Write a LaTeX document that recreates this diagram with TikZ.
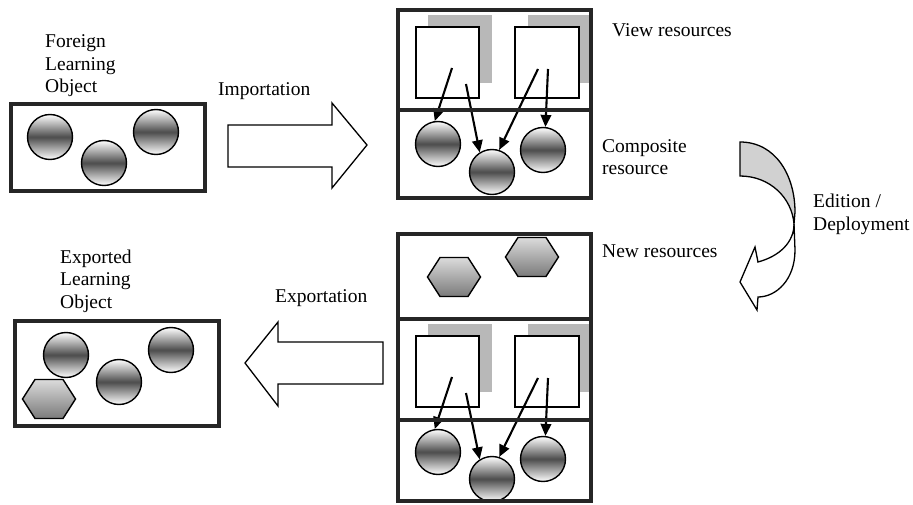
\documentclass[tikz,border=0pt]{standalone}
\usepackage{fontspec}
\setmainfont{Liberation Serif}
\usetikzlibrary{arrows.meta}
\begin{document}
\begin{tikzpicture}[x=1pt,y=-1pt,
  lbl/.style={font=\fontsize{19.5}{22.5}\selectfont, inner sep=0pt, anchor=base west},
  frame/.style={draw=black!85, line width=3.6pt},
  divider/.style={draw=black!85, line width=3.6pt},
  ball/.style={circle, draw=black, line width=1.4pt, minimum size=45pt, inner sep=0pt,
    top color=white, bottom color=white, middle color=black!70},
  viewbox/.style={draw=black, line width=1.3pt, fill=white},
  shadowbox/.style={fill=black!28},
  link/.style={line width=2.1pt, -{Triangle[length=12pt,width=10.5pt]}},
  bigarrow/.style={draw=black, line width=1.3pt, fill=white, line join=miter},
  hexa/.pic={\path[draw=black, line width=1.4pt, top color=black!14, middle color=white, bottom color=black!52]
     (-26.5,0) -- (-14,-19.5) -- (14,-19.5) -- (26.5,0) -- (14,19.5) -- (-14,19.5) -- cycle;}
]
\useasboundingbox (0,0) rectangle (913,505);

% ---------------- Foreign learning object
\node[lbl] (tforeign1) at (45,48) {Foreign};
\node[lbl] (tforeign2) at (45,70.5) {Learning};
\node[lbl] (tforeign3) at (45,93) {Object};
\draw[frame] (11,104) rectangle (205,191);
\node[ball] (f1) at (50,137) {};
\node[ball] (f2) at (104,163) {};
\node[ball] (f3) at (156,132) {};

% Importation arrow
\draw[bigarrow] (228,125) -- (332,125) -- (332,103) -- (367,145) -- (332,188) -- (332,167) -- (228,167) -- cycle;
\node[lbl] (timport) at (218,96) {Importation};

% ---------------- Top composite box
\fill[shadowbox] (428,15) rectangle (492,83);
\fill[shadowbox] (528,15) rectangle (590,83);
\draw[viewbox] (416,27) rectangle (479,98);
\draw[viewbox] (515,27) rectangle (579,98);
\node[ball] (t1) at (438,144) {};
\node[ball] (t2) at (492,172) {};
\node[ball] (t3) at (543,150) {};
\coordinate (ts1) at (452,68);
\coordinate (ts2) at (466,84);
\coordinate (ts3) at (538,69);
\coordinate (ts4) at (548,69);
\draw[link] (ts1) -- (t1.98);
\draw[link] (ts2) -- (t2.122);
\draw[link] (ts3) -- (t2.72);
\draw[link] (ts4) -- (t3.84);
\draw[frame] (398,10) rectangle (591,198);
\draw[divider] (398,110) -- (591,110);
\node[lbl] (tview) at (612,37) {View resources};
\node[lbl] (tcomp1) at (602,153) {Composite};
\node[lbl] (tcomp2) at (602,175) {resource};

% ---------------- Curved Edition / Deployment arrow
\draw[line width=1.3pt, fill=white, line join=miter]
  (794,224) -- (795,250) .. controls (795,280) and (776,297) .. (758,297)
  -- (757,310) -- (740,282) -- (755,247) -- (758,262)
  .. controls (780,256) and (794,242) .. (794,224);
\draw[line width=1.3pt, fill=black!18, line join=miter]
  (740,142) .. controls (776,142) and (795,176) .. (795,212) -- (794,224)
  .. controls (792,198) and (770,176) .. (740,176) -- cycle;
\node[lbl] (tedit1) at (813,208) {Edition /};
\node[lbl] (tedit2) at (813,230) {Deployment};

% ---------------- Bottom composite box
\pic at (454,277) {hexa};
\pic at (532,257) {hexa};
\fill[shadowbox] (428,324) rectangle (492,392);
\fill[shadowbox] (528,324) rectangle (590,392);
\draw[viewbox] (416,336) rectangle (479,407);
\draw[viewbox] (515,336) rectangle (579,407);
\node[ball] (b1) at (438,452) {};
\node[ball] (b2) at (492,479) {};
\node[ball] (b3) at (543,459) {};
\coordinate (bs1) at (452,377);
\coordinate (bs2) at (466,393);
\coordinate (bs3) at (538,378);
\coordinate (bs4) at (548,378);
\draw[link] (bs1) -- (b1.98);
\draw[link] (bs2) -- (b2.122);
\draw[link] (bs3) -- (b2.72);
\draw[link] (bs4) -- (b3.84);
\draw[frame] (398,234) rectangle (591,501);
\draw[divider] (398,319) -- (591,319);
\draw[divider] (398,420) -- (591,420);
\node[lbl] (tnew) at (602,258) {New resources};

% Exportation arrow
\draw[bigarrow] (383,342) -- (278,342) -- (278,322) -- (245,363) -- (278,406) -- (278,384) -- (383,384) -- cycle;
\node[lbl] (texport) at (275,302) {Exportation};

% ---------------- Exported learning object
\node[lbl] (texp1) at (60,263) {Exported};
\node[lbl] (texp2) at (60,285.5) {Learning};
\node[lbl] (texp3) at (60,308) {Object};
\draw[frame] (15,321) rectangle (219,426);
\node[ball] (e1) at (66,355) {};
\node[ball] (e2) at (119,382) {};
\node[ball] (e3) at (171,350) {};
\pic at (49,399) {hexa};
\end{tikzpicture}
\end{document}
